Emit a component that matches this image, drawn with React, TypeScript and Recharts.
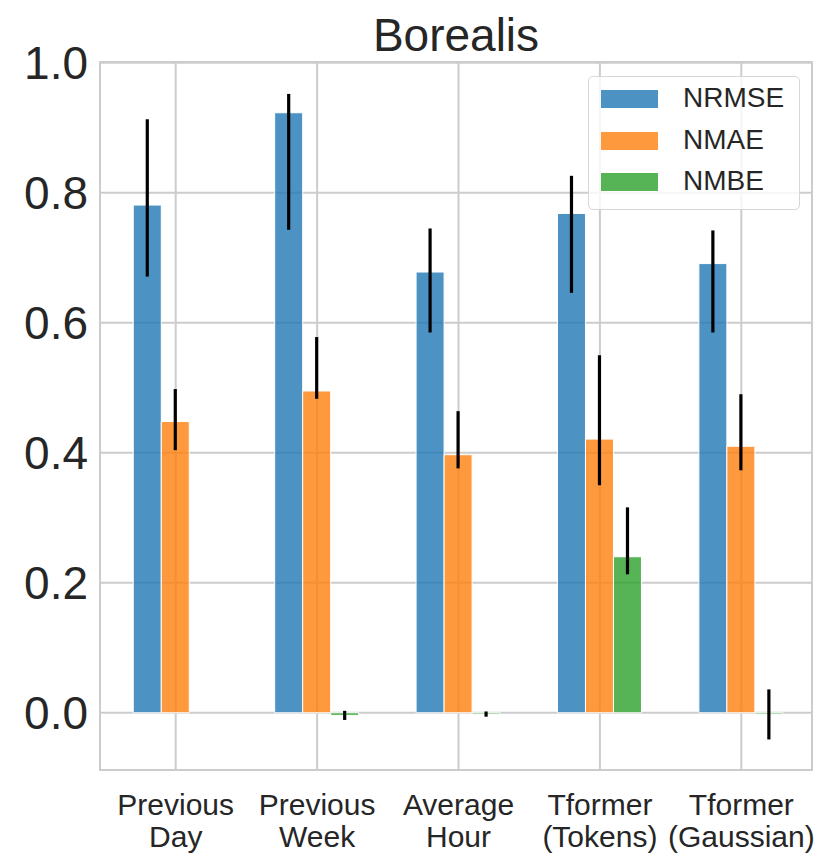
import React from "react";
import {
  BarChart,
  Bar,
  XAxis,
  YAxis,
  CartesianGrid,
  ErrorBar,
  Legend,
} from "recharts";

const categories = [
  "Previous\nDay",
  "Previous\nWeek",
  "Average\nHour",
  "Tformer\n(Tokens)",
  "Tformer\n(Gaussian)",
];
const seriesNames = ["NRMSE", "NMAE", "NMBE"];
const nrmse = [0.781, 0.923, 0.678, 0.768, 0.691];
const nrmseLow = [0.671, 0.743, 0.585, 0.646, 0.585];
const nrmseHigh = [0.913, 0.952, 0.745, 0.826, 0.742];
const nmae = [0.448, 0.495, 0.397, 0.421, 0.41];
const nmaeLow = [0.404, 0.483, 0.376, 0.35, 0.373];
const nmaeHigh = [0.498, 0.578, 0.464, 0.55, 0.49];
const nmbe = [0.0, -0.004, -0.002, 0.24, -0.002];
const nmbeLow = [-0.002, -0.011, -0.006, 0.213, -0.041];
const nmbeHigh = [0.002, 0.003, 0.002, 0.316, 0.036];
const yTicks = [0, 0.2, 0.4, 0.6, 0.8, 1.0];

const FONT = '"Liberation Sans", Arial, sans-serif';
const TEXT = "#262626";
const GRID = "#cccccc";

const data = categories.map((c, i) => ({
  name: c,
  NRMSE: nrmse[i],
  NMAE: nmae[i],
  NMBE: nmbe[i],
  nrmseErr: [nrmse[i] - nrmseLow[i], nrmseHigh[i] - nrmse[i]],
  nmaeErr: [nmae[i] - nmaeLow[i], nmaeHigh[i] - nmae[i]],
  nmbeErr: [nmbe[i] - nmbeLow[i], nmbeHigh[i] - nmbe[i]],
}));

const XTick = (props: any) => {
  const { x, y, payload } = props;
  const lines = String(payload.value).split("\n");
  return (
    <g transform={`translate(${x},${y})`}>
      {lines.map((l, i) => (
        <text
          key={i}
          x={0}
          y={45 + i * 32}
          textAnchor="middle"
          fontSize={30}
          fontFamily={FONT}
          fill={TEXT}
        >
          {l}
        </text>
      ))}
    </g>
  );
};

const LegendBox = (props: any) => {
  const payload = [...(props.payload || [])].sort(
    (a: any, b: any) =>
      seriesNames.indexOf(String(a.value)) - seriesNames.indexOf(String(b.value))
  );
  return (
    <div
      style={{
        width: 212,
        height: 134,
        boxSizing: "border-box",
        border: "1.5px solid #d6d6d6",
        borderRadius: 5,
        background: "rgba(255,255,255,0.8)",
        position: "relative",
        fontFamily: FONT,
      }}
    >
      {payload.map((e: any, i: number) => (
        <React.Fragment key={e.value}>
          <div
            style={{
              position: "absolute",
              left: 12,
              top: 13 + i * 41.7,
              width: 57,
              height: 18,
              background: e.color,
              opacity: 0.8,
            }}
          />
          <span
            style={{
              position: "absolute",
              left: 94,
              top: 7 + i * 41.7,
              fontSize: 28,
              lineHeight: "28px",
              color: TEXT,
              whiteSpace: "nowrap",
            }}
          >
            {e.value}
          </span>
        </React.Fragment>
      ))}
    </div>
  );
};

export default function App() {
  return (
    <div style={{ position: "relative", width: 823, height: 859 }}>
      <BarChart
        width={823}
        height={859}
        data={data}
        margin={{ top: 54.7, right: 19, bottom: 0, left: 0 }}
        barCategoryGap="20%"
        barGap={0}
        style={{ position: "absolute", left: 0, top: 0 }}
      >
        <CartesianGrid stroke={GRID} strokeWidth={2} />
        <XAxis
          dataKey="name"
          height={97}
          tickLine={false}
          axisLine={false}
          tickSize={0}
          tickMargin={0}
          interval={0}
          padding={{ left: 5, right: 0 }}
          tick={<XTick />}
        />
        <YAxis
          width={92}
          domain={[-0.088, 1.0]}
          allowDataOverflow
          ticks={yTicks}
          tickFormatter={(v: number) => v.toFixed(1)}
          tickLine={false}
          axisLine={false}
          tickSize={0}
          tickMargin={12}
          tick={{ fontSize: 46, fontFamily: FONT, fill: TEXT }}
        />
        <Legend
          layout="vertical"
          verticalAlign="middle"
          align="center"
          content={<LegendBox />}
          wrapperStyle={{ left: 580, top: 68, width: 213 }}
        />
        {seriesNames.map((s, k) => (
          <Bar
            key={s}
            dataKey={s}
            name={s}
            fill={["#1f77b4", "#ff7f0e", "#2ca02c"][k]}
            fillOpacity={0.8}
            stroke="#ffffff"
            strokeWidth={1}
            isAnimationActive={false}
          >
            <ErrorBar
              dataKey={["nrmseErr", "nmaeErr", "nmbeErr"][k]}
              width={0}
              stroke="#000000"
              strokeWidth={3.2}
              direction="y"
            />
          </Bar>
        ))}
      </BarChart>
      <div
        style={{
          position: "absolute",
          left: 90.75,
          top: 53.45,
          width: 714.5,
          height: 709.8,
          boxSizing: "border-box",
          border: `2.5px solid ${GRID}`,
          pointerEvents: "none",
        }}
      />
      <div
        style={{
          position: "absolute",
          left: 92,
          top: 0,
          width: 712,
          textAlign: "center",
          fontFamily: FONT,
          fontSize: 46,
          lineHeight: "54px",
          color: TEXT,
          whiteSpace: "nowrap",
        }}
      >
        Borealis
      </div>
    </div>
  );
}
